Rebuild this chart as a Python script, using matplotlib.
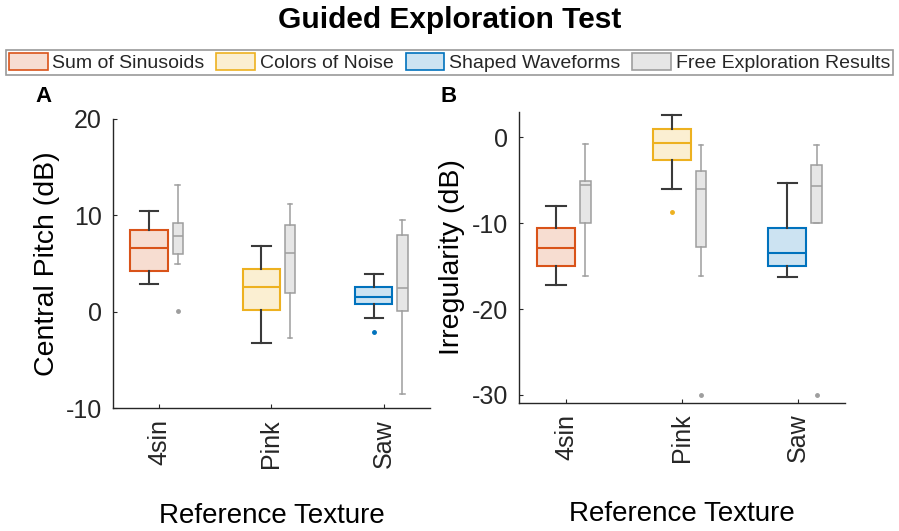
import matplotlib
matplotlib.use("Agg")
import matplotlib.pyplot as plt
from matplotlib.patches import Patch

plt.rcParams["font.family"] = ["Liberation Sans", "DejaVu Sans"]
plt.rcParams["text.color"] = "#262626"
plt.rcParams["axes.unicode_minus"] = False

# ---- data ----
cats = ["4sin", "Pink", "Saw"]
series = ["Sum of Sinusoids", "Colors of Noise", "Shaped Waveforms", "Free Exploration Results"]

# Panel A: Central Pitch (dB) -- guided (coloured) boxes
a_ref_med = [6.65, 2.59, 1.52]
a_ref_q1 = [4.17, 0.2, 0.79]
a_ref_q3 = [8.45, 4.48, 2.59]
a_ref_lo = [2.83, -3.28, -0.69]
a_ref_hi = [10.4, 6.8, 3.86]
a_ref_out = [[], [], [-2.07]]
# Panel A: free exploration (grey) boxes
a_free_med = [7.83, 6.1, 2.48]
a_free_q1 = [6.0, 1.97, 0.03]
a_free_q3 = [9.24, 9.0, 8.0]
a_free_lo = [4.9, -2.69, -8.55]
a_free_hi = [13.2, 11.17, 9.48]
a_free_out = [[0.03], [], []]

# Panel B: Irregularity (dB)
b_ref_med = [-12.87, -0.62, -13.41]
b_ref_q1 = [-14.92, -2.59, -14.92]
b_ref_q3 = [-10.55, 1.0, -10.55]
b_ref_lo = [-17.24, -6.03, -16.24]
b_ref_hi = [-8.0, 2.59, -5.26]
b_ref_out = [[], [-8.74], []]
b_free_med = [-5.53, -6.03, -5.68]
b_free_q1 = [-9.93, -12.76, -9.93]
b_free_q3 = [-5.1, -3.87, -3.25]
b_free_lo = [-16.12, -16.12, -9.93]
b_free_hi = [-0.73, -0.89, -0.85]
b_free_out = [[], [-29.96], [-29.96]]

edge_cols = ["#D95319", "#EDB120", "#0072BD"]
fill_cols = ["#F7DDD1", "#FBEFD2", "#CCE3F2"]
grey_edge = "#9E9E9E"
grey_fill = "#E6E6E6"
dark = "#262626"


def stats(med, q1, q3, lo, hi, out):
    return [dict(med=m, q1=a, q3=b, whislo=l, whishi=h, fliers=o)
            for m, a, b, l, h, o in zip(med, q1, q3, lo, hi, out)]


def panel(ax, ref, free, ylim, yticks, ylabel):
    for i in range(len(cats)):
        x = i + 1
        ec, fc = edge_cols[i], fill_cols[i]
        ax.bxp([ref[i]], positions=[x - 0.09], widths=0.33, capwidths=0.165,
               patch_artist=True, manage_ticks=False,
               boxprops=dict(facecolor=fc, edgecolor=ec, linewidth=1.5),
               medianprops=dict(color=ec, linewidth=1.5),
               whiskerprops=dict(color="#3a3a3a", linewidth=1.5, linestyle="-"),
               capprops=dict(color="#3a3a3a", linewidth=1.5),
               flierprops=dict(marker="o", markersize=2.5, markerfacecolor=ec,
                               markeredgecolor=ec))
        ax.bxp([free[i]], positions=[x + 0.165], widths=0.09, capwidths=0.04,
               patch_artist=True, manage_ticks=False,
               boxprops=dict(facecolor=grey_fill, edgecolor=grey_edge, linewidth=1.1),
               medianprops=dict(color=grey_edge, linewidth=1.1),
               whiskerprops=dict(color=grey_edge, linewidth=1.1, linestyle="-"),
               capprops=dict(color=grey_edge, linewidth=1.1),
               flierprops=dict(marker="o", markersize=2.5, markerfacecolor=grey_edge,
                               markeredgecolor=grey_edge))
    ax.set_xlim(0.59, 3.41)
    ax.set_ylim(*ylim)
    ax.set_yticks(yticks)
    ax.set_xticks(range(1, len(cats) + 1))
    ax.set_xticklabels(cats, rotation=90)
    for s in ["top", "right"]:
        ax.spines[s].set_visible(False)
    for s in ["left", "bottom"]:
        ax.spines[s].set_color(dark)
        ax.spines[s].set_linewidth(1.0)
    ax.tick_params(direction="in", length=3, width=0.8, colors=dark,
                   labelsize=18, pad=8)
    ax.set_ylabel(ylabel, fontsize=20.5, va="center")
    ax.set_xlabel("Reference Texture", fontsize=20, va="center")


fig = plt.figure(figsize=(8.99, 5.31), dpi=100)
axA = fig.add_axes([113 / 899, 1 - 408 / 531, 317 / 899, 289 / 531])
axB = fig.add_axes([519 / 899, 1 - 402.7 / 531, 326 / 899, 291 / 531])

panel(axA,
      stats(a_ref_med, a_ref_q1, a_ref_q3, a_ref_lo, a_ref_hi, a_ref_out),
      stats(a_free_med, a_free_q1, a_free_q3, a_free_lo, a_free_hi, a_free_out),
      (-10, 20), [-10, 0, 10, 20], "Central Pitch (dB)")
panel(axB,
      stats(b_ref_med, b_ref_q1, b_ref_q3, b_ref_lo, b_ref_hi, b_ref_out),
      stats(b_free_med, b_free_q1, b_free_q3, b_free_lo, b_free_hi, b_free_out),
      (-30.9, 3.0), [-30, -20, -10, 0], "Irregularity (dB)")

axA.yaxis.set_label_coords(-0.208, 0.5)
axA.xaxis.set_label_coords(0.5, -0.375)
axB.yaxis.set_label_coords(-0.204, 0.5)
axB.xaxis.set_label_coords(0.5, -0.383)

fig.text(44 / 899, 1 - 97 / 531, "A", fontsize=16, fontweight="bold",
         ha="center", va="center", color="black")
fig.text(449 / 899, 1 - 97 / 531, "B", fontsize=16, fontweight="bold",
         ha="center", va="center", color="black")

fig.text(0.5, 1 - 20 / 531, "Guided Exploration Test", fontsize=21.5,
         fontweight="bold", ha="center", va="center", color="black")

handles = [Patch(facecolor=f, edgecolor=e, linewidth=1.2)
           for f, e in zip(fill_cols + [grey_fill], edge_cols + [grey_edge])]
leg = fig.legend(handles, series, loc="upper center", ncol=4,
                 bbox_to_anchor=(0.5, 1 - 50 / 531), fontsize=14,
                 frameon=True, fancybox=False, edgecolor="#808080",
                 handlelength=2.0, handleheight=1.0, handletextpad=0.25,
                 columnspacing=0.6, borderpad=0.15, borderaxespad=0)
leg.get_frame().set_linewidth(1.2)

fig.savefig("out.png", dpi=100)
